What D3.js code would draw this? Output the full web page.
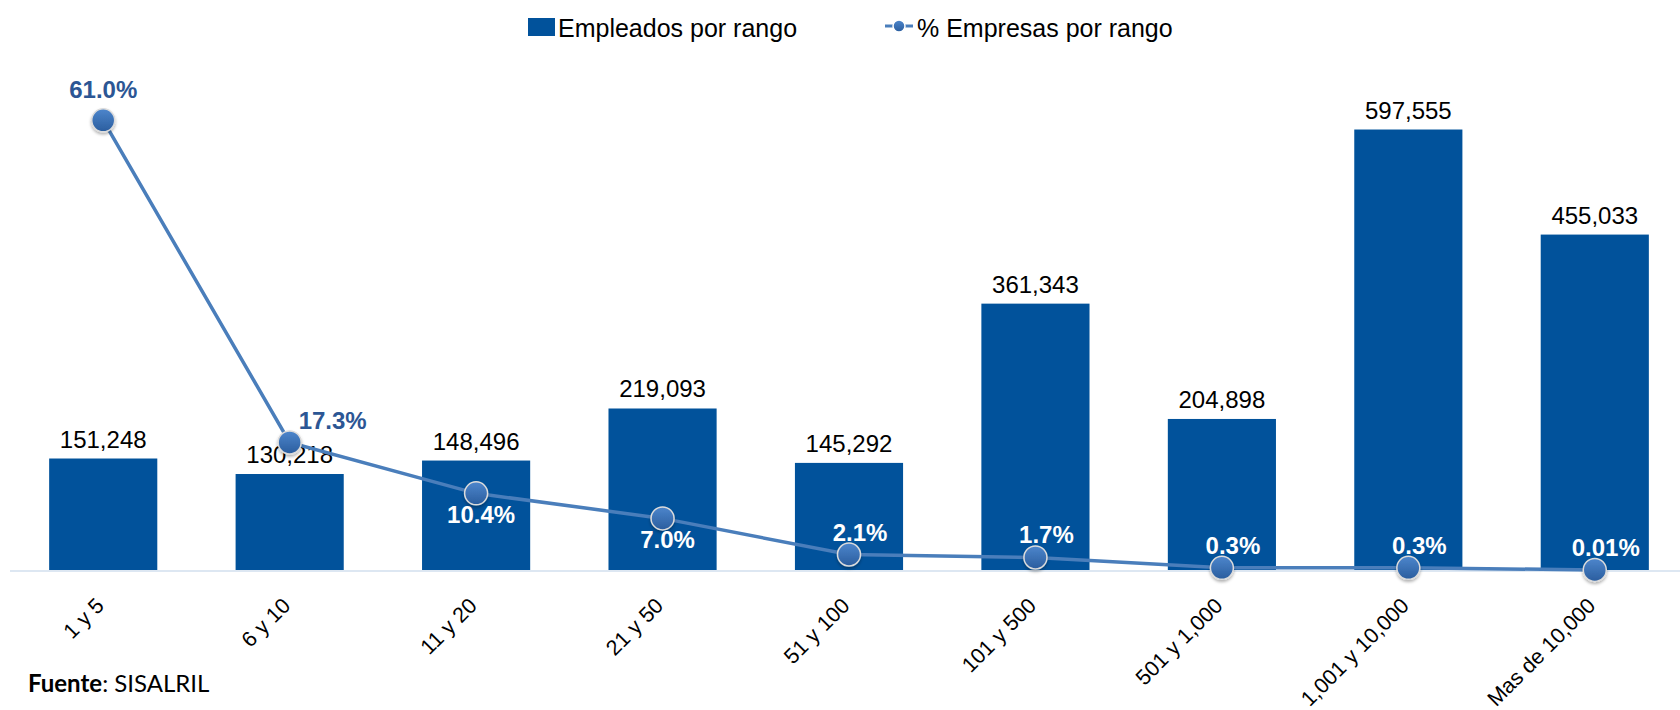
<!DOCTYPE html>
<html>
<head>
<meta charset="utf-8">
<script src="https://cdn.jsdelivr.net/npm/d3@7"></script>
<style>
    html, body { margin: 0; padding: 0; background: #fff; }
    svg { display: block; font-family: "Liberation Sans", Arial, sans-serif; }
</style>
</head>
<body>
<div id="chart"></div>
<script>
"use strict";

// rangos de empleados
const rangos = ["1 y 5", "6 y 10", "11 y 20", "21 y 50", "51 y 100", "101 y 500",
    "501 y 1,000", "1,001 y 10,000", "Mas de 10,000"];
// Empleados por rango
const empleados = [151248, 130218, 148496, 219093, 145292, 361343, 204898, 597555, 455033];
// % Empresas por rango
const empresasPct = [61.0, 17.3, 10.4, 7.0, 2.1, 1.7, 0.3, 0.3, 0.01];
const empresasLbl = ["61.0%", "17.3%", "10.4%", "7.0%", "2.1%", "1.7%", "0.3%", "0.3%", "0.01%"];

const legendNames = ["Empleados por rango", "% Empresas por rango"];

const W = 1680, H = 710;
const barColor = "#01529b";
const lineColor = "#4a7ebb";
const pctColor = "#2c5694";

const svg = d3.select("#chart").append("svg")
    .attr("width", W).attr("height", H);

const defs = svg.append("defs");
const grad = defs.append("linearGradient").attr("id", "dotGrad")
    .attr("x1", 0).attr("y1", 0).attr("x2", 0).attr("y2", 1);
grad.append("stop").attr("offset", "0%").attr("stop-color", "#4d86cc");
grad.append("stop").attr("offset", "100%").attr("stop-color", "#2a5d9e");
const shadow = defs.append("filter").attr("id", "dotShadow")
    .attr("x", "-50%").attr("y", "-50%").attr("width", "200%").attr("height", "200%");
shadow.append("feDropShadow").attr("dx", 0).attr("dy", 2).attr("stdDeviation", 1.5)
    .attr("flood-color", "#000").attr("flood-opacity", 0.3);

const x = d3.scaleBand()
    .domain(rangos)
    .range([10, 1688])
    .paddingInner(0.42)
    .paddingOuter(0.21);

const yBar = d3.scaleLinear().domain([0, 700000]).range([570, 54]);
const yPct = d3.scaleLinear().domain([0, 70]).range([570, 54]);

const data = rangos.map((r, i) => ({
    rango: r, emp: empleados[i], pct: empresasPct[i], lbl: empresasLbl[i], i: i
}));
const cx = d => x(d.rango) + x.bandwidth() / 2;

// eje horizontal
svg.append("line")
    .attr("x1", 10).attr("x2", W)
    .attr("y1", yBar(0) + 1).attr("y2", yBar(0) + 1)
    .attr("stroke", "#dde7f2").attr("stroke-width", 2);

// barras
svg.append("g").selectAll("rect").data(data).join("rect")
    .attr("x", d => x(d.rango))
    .attr("y", d => yBar(d.emp))
    .attr("width", x.bandwidth())
    .attr("height", d => yBar(0) - yBar(d.emp))
    .attr("fill", barColor);

svg.append("g").selectAll("text").data(data).join("text")
    .attr("x", cx)
    .attr("y", d => yBar(d.emp) - 11)
    .attr("text-anchor", "middle")
    .attr("font-size", 24)
    .attr("fill", "#000")
    .text(d => d3.format(",")(d.emp));

// linea de % empresas
const line = d3.line().x(cx).y(d => yPct(d.pct));
svg.append("path").datum(data)
    .attr("d", line)
    .attr("fill", "none")
    .attr("stroke", lineColor)
    .attr("stroke-width", 3.5);

svg.append("g").selectAll("circle").data(data).join("circle")
    .attr("cx", cx)
    .attr("cy", d => yPct(d.pct))
    .attr("r", 11.5)
    .attr("fill", "url(#dotGrad)")
    .attr("stroke", "#dcdcdc")
    .attr("stroke-width", 1.5)
    .attr("filter", "url(#dotShadow)");

// etiquetas de %: encima, a la derecha o debajo del punto
function placement(d) {
    if (d.i === 0) return {dx: 0, dy: -22, anchor: "middle"};
    if (d.i === 1) return {dx: 9, dy: -13, anchor: "start"};
    if (d.pct >= 5 && d.pct < 15) return {dx: 5, dy: 30, anchor: "middle"};
    return {dx: 11, dy: -14, anchor: "middle"};
}

svg.append("g").selectAll("text").data(data).join("text")
    .each(function (d) {
        const p = placement(d);
        const ty = yPct(d.pct) + p.dy;
        const insideBar = ty > yBar(d.emp) + 10;
        d3.select(this)
            .attr("x", cx(d) + p.dx)
            .attr("y", ty)
            .attr("text-anchor", p.anchor)
            .attr("fill", insideBar ? "#fff" : pctColor);
    })
    .attr("font-size", 24)
    .attr("font-weight", "bold")
    .text(d => d.lbl);

// etiquetas del eje x
svg.append("g").selectAll("text").data(data).join("text")
    .attr("transform", d => `translate(${cx(d) + 2},${yBar(0) + 37}) rotate(-45)`)
    .attr("text-anchor", "end")
    .attr("font-size", 21.5)
    .attr("fill", "#000")
    .text(d => d.rango);

// leyenda
const lg = svg.append("g");
lg.append("rect").attr("x", 528).attr("y", 18).attr("width", 27).attr("height", 18)
    .attr("fill", barColor);
lg.append("text").attr("x", 558).attr("y", 36.5).attr("font-size", 25)
    .text(legendNames[0]);
lg.append("line").attr("x1", 885).attr("x2", 913).attr("y1", 26).attr("y2", 26)
    .attr("stroke", lineColor).attr("stroke-width", 3);
lg.append("circle").attr("cx", 899).attr("cy", 26).attr("r", 6)
    .attr("fill", "url(#dotGrad)").attr("stroke", "#fff").attr("stroke-width", 1.5);
lg.append("text").attr("x", 917).attr("y", 36.5).attr("font-size", 25)
    .text(legendNames[1]);

// fuente
const src = svg.append("text").attr("x", 28).attr("y", 692)
    .attr("font-family", "Lato, 'Open Sans', sans-serif").attr("font-size", 24);
src.append("tspan").attr("font-weight", "bold").text("Fuente");
src.append("tspan").text(": SISALRIL");
</script>
</body>
</html>
